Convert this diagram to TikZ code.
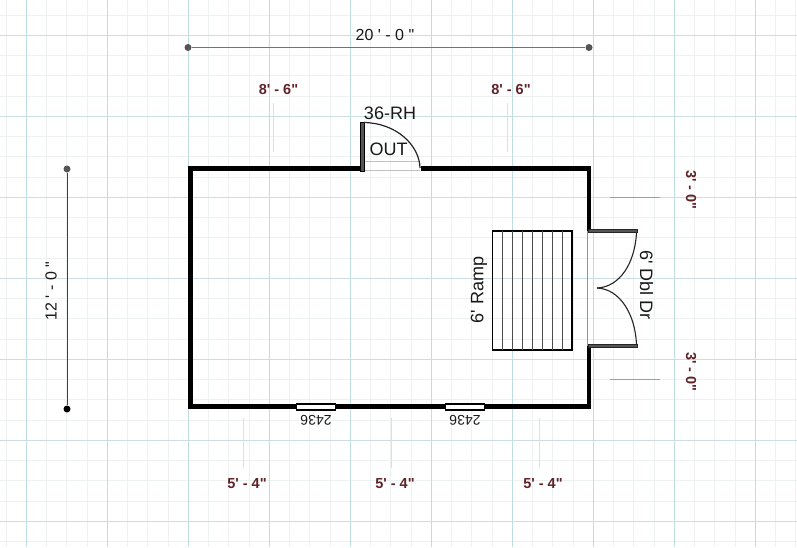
\documentclass[tikz,border=0pt]{standalone}
\usepackage{fontspec}
\setmainfont[Ligatures=TeXOff]{Liberation Sans}
\definecolor{gridmajorv}{RGB}{190,222,224}
\definecolor{gridmajorh}{RGB}{205,222,224}
\definecolor{gridminor}{RGB}{238,241,241}
\definecolor{dimdark}{RGB}{85,85,85}
\definecolor{maroon}{RGB}{95,35,40}
\tikzset{
  x=1pt,y=-1pt,
  wall/.style={line width=4.6pt,draw=black,line cap=butt},
  thin gray/.style={line width=0.7pt,draw=gray!85},
  tick/.style={line width=0.7pt,draw=gray!25},
  htick/.style={line width=0.7pt,draw=gray!75},
  dimline/.style={line width=1pt,draw=gray!90!black},
  dot/.style={circle,fill=dimdark,minimum size=7pt,inner sep=0pt},
  txt/.style={font=\fontsize{18}{20}\selectfont,text=black!90,inner sep=0pt},
  red/.style={font=\fontsize{14.5}{16}\selectfont\bfseries,text=maroon,inner sep=0pt},
  dimtxt/.style={font=\fontsize{16}{18}\selectfont,text=black!90,inner sep=0pt},
  win/.style={font=\fontsize{14}{15}\selectfont,text=black!90,inner sep=0pt,rotate=180},
}
\begin{document}
\begin{tikzpicture}
\useasboundingbox (0,0) rectangle (797,547);
\fill[white] (0,0) rectangle (797,547);
% grid
\foreach \i in {0,...,39}{
  \pgfmathsetmacro{\gx}{6+20.25*\i}
  \draw[gridminor,line width=0.8pt] (\gx,0) -- (\gx,547);
}
\foreach \i in {0,...,26}{
  \pgfmathsetmacro{\gy}{15+20.25*\i}
  \draw[gridminor,line width=0.8pt] (0,\gy) -- (797,\gy);
}
\foreach \i in {0,...,9}{
  \pgfmathsetmacro{\gx}{26.5+81*\i}
  \draw[gridmajorv,line width=0.8pt] (\gx,0) -- (\gx,547);
}
\foreach \i in {0,...,6}{
  \pgfmathsetmacro{\gy}{35.5+81*\i}
  \draw[gridmajorh,line width=0.8pt] (0,\gy) -- (797,\gy);
}
% dimension lines
\node[dot] (dtl) at (188,47.5) {};
\node[dot] (dtr) at (589,47.5) {};
\draw[dimline] (dtl) -- (dtr);
\node[dimtxt] (dt) at (385,34.5) {20 ' - 0 "};
\node[dot] (dlt) at (67,169) {};
\node[dot,fill=black] (dlb) at (67,409) {};
\draw[dimline,draw=black!75] (dlt) -- (dlb);
\node[dimtxt,rotate=90] (dl) at (51,291) {12 ' - 0 "};
% ticks
\draw[tick] (273,103) -- (273,152);
\draw[tick] (507,103) -- (507,152);
\draw[htick] (610,197.5) -- (660,197.5);
\draw[htick] (610,379) -- (660,379);
\draw[tick] (243,418) -- (243,468);
\draw[tick] (391,418) -- (391,468);
\draw[tick] (539,418) -- (539,468);
% measurement labels
\node[red] (m1) at (278.5,90) {8' - 6"};
\node[red] (m2) at (511,90) {8' - 6"};
\node[red,rotate=-90] (m3) at (691,190) {3' - 0"};
\node[red,rotate=-90] (m4) at (691,372) {3' - 0"};
\node[red] (m5) at (247,484) {5' - 4"};
\node[red] (m6) at (395,484) {5' - 4"};
\node[red] (m7) at (543,484) {5' - 4"};
% thresholds
\draw[thin gray,draw=gray!50] (363,161) -- (420,161);
\draw[thin gray,draw=gray!50] (363,170.5) -- (420,170.5);
\draw[thin gray] (587.5,231) -- (587.5,346);
% walls
\draw[wall] (360,168.7) -- (190.5,168.7) -- (190.5,406.3) -- (589,406.3) -- (589,346);
\draw[wall] (589,231) -- (589,168.7) -- (420.5,168.7);
% single door
\draw[line width=1pt,draw=black,fill=dimdark] (360.3,122) rectangle (364.7,171);
\draw[line width=1.2pt,black!85] (364,122.5) .. controls (396,123) and (419.5,145) .. (420,168);
\node[txt] (dtag) at (390,113.5) {36-RH};
\node[txt] (out) at (388.5,149) {OUT};
% double door
\draw[line width=1pt,draw=black!85,fill=dimdark] (588,229.5) rectangle (637,232.7);
\draw[line width=1pt,draw=black!85,fill=dimdark] (588,344) rectangle (637,347.4);
\draw[line width=1.1pt,black!85] (636.5,232.5) .. controls (635,263) and (620,287) .. (597,288);
\draw[line width=1.1pt,black!85] (636.5,344) .. controls (635,314) and (620,289) .. (597,288);
\node[txt,rotate=-90] (dd) at (646.5,285) {6' Dbl Dr};
% ramp
\draw[line width=1.2pt,black] (492.5,231) rectangle (572,350);
\foreach \lx in {502.5,512.5,522.5,532.5,542.5,552.5,562.5}{
  \draw[line width=0.8pt,black!70] (\lx,231) -- (\lx,350);
}
\node[txt,rotate=90] (rp) at (479,290) {6' Ramp};
% windows
\foreach \wx in {296,445}{
  \draw[line width=1.5pt,black,fill=white] (\wx+0.7,404) rectangle ++(38.6,6);
}
\node[win] (w1) at (316,420) {2436};
\node[win] (w2) at (465,420) {2436};
\end{tikzpicture}
\end{document}
